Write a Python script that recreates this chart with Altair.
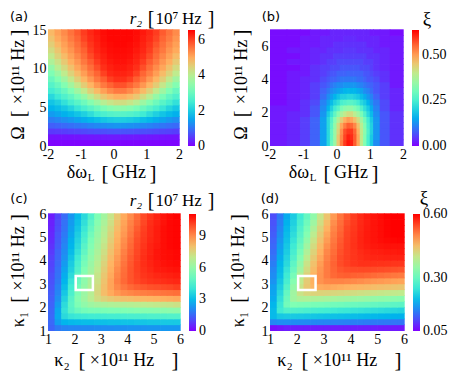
import altair as alt
import pandas as pd

SERIF = "Liberation Serif"
SANS = "DejaVu Sans"
RAINBOW = ["#8000ff", "#4062fa", "#00b4ec", "#40ecd4", "#80ffb4",
           "#bfec8e", "#ffb462", "#ff6232", "#ff0000"]

# ---------------- panel (a): r2 vs detuning and Omega ----------------
A_X_EDGES = [-2.0, -1.8, -1.6, -1.4, -1.2, -1.0, -0.8, -0.6, -0.4, -0.2, 0.0,
             0.2, 0.4, 0.6, 0.8, 1.0, 1.2, 1.4, 1.6, 1.8, 2.0]
A_Y_EDGES = [0, 0.75, 1.5, 2.25, 3.0, 3.75, 4.5, 5.25, 6.0, 6.75, 7.5, 8.25,
             9.0, 9.75, 10.5, 11.25, 12.0, 12.75, 13.5, 14.25, 15.0]
A_ROWS = [
    [0.03] * 20,
    [.15, .15, .16, .16, .17, .18, .19, .20, .21, .22, .22, .22, .22, .21, .20, .19, .18, .17, .16, .16],
    [.48, .49, .52, .55, .58, .61, .64, .66, .67, .69, .70, .70, .69, .67, .66, .64, .61, .58, .55, .52],
    [.79, .84, .90, .95, 1.01, 1.07, 1.14, 1.20, 1.25, 1.29, 1.33, 1.33, 1.29, 1.25, 1.20, 1.14, 1.07, 1.01, .95, .90],
    [1.10, 1.18, 1.27, 1.36, 1.47, 1.58, 1.69, 1.79, 1.90, 1.98, 2.02, 2.02, 1.98, 1.90, 1.79, 1.69, 1.58, 1.47, 1.36, 1.27],
    [1.39, 1.50, 1.61, 1.73, 1.87, 2.04, 2.24, 2.46, 2.61, 2.71, 2.76, 2.76, 2.71, 2.61, 2.46, 2.24, 2.04, 1.87, 1.73, 1.61],
    [1.65, 1.77, 1.91, 2.10, 2.36, 2.59, 2.80, 3.01, 3.21, 3.37, 3.46, 3.46, 3.37, 3.21, 3.01, 2.80, 2.59, 2.36, 2.10, 1.91],
    [1.88, 2.05, 2.29, 2.55, 2.78, 3.04, 3.33, 3.64, 3.99, 4.19, 4.31, 4.31, 4.19, 3.99, 3.64, 3.33, 3.04, 2.78, 2.55, 2.29],
    [2.16, 2.42, 2.66, 2.90, 3.19, 3.55, 4.00, 4.33, 4.64, 4.83, 4.96, 4.96, 4.83, 4.64, 4.33, 4.00, 3.55, 3.19, 2.90, 2.66],
    [2.49, 2.71, 2.97, 3.28, 3.68, 4.13, 4.50, 4.83, 5.11, 5.34, 5.50, 5.50, 5.34, 5.11, 4.83, 4.50, 4.13, 3.68, 3.28, 2.97],
    [2.74, 2.99, 3.31, 3.72, 4.17, 4.56, 4.90, 5.20, 5.50, 5.71, 5.87, 5.87, 5.71, 5.50, 5.20, 4.90, 4.56, 4.17, 3.72, 3.31],
    [2.99, 3.29, 3.69, 4.15, 4.53, 4.89, 5.19, 5.51, 5.76, 6.02, 6.15, 6.15, 6.02, 5.76, 5.51, 5.19, 4.89, 4.53, 4.15, 3.69],
    [3.25, 3.62, 4.09, 4.47, 4.81, 5.13, 5.44, 5.70, 6.01, 6.21, 6.27, 6.27, 6.21, 6.01, 5.70, 5.44, 5.13, 4.81, 4.47, 4.09],
    [3.52, 4.01, 4.36, 4.72, 5.05, 5.32, 5.61, 5.90, 6.16, 6.28, 6.35, 6.35, 6.28, 6.16, 5.90, 5.61, 5.32, 5.05, 4.72, 4.36],
    [3.87, 4.25, 4.60, 4.96, 5.21, 5.51, 5.77, 6.05, 6.24, 6.35, 6.41, 6.41, 6.35, 6.24, 6.05, 5.77, 5.51, 5.21, 4.96, 4.60],
    [4.13, 4.49, 4.81, 5.10, 5.36, 5.63, 5.92, 6.16, 6.29, 6.41, 6.44, 6.44, 6.41, 6.29, 6.16, 5.92, 5.63, 5.36, 5.10, 4.81],
    [4.34, 4.67, 5.01, 5.23, 5.51, 5.74, 6.04, 6.23, 6.35, 6.44, 6.47, 6.47, 6.44, 6.35, 6.23, 6.04, 5.74, 5.51, 5.23, 5.01],
    [4.53, 4.85, 5.11, 5.35, 5.60, 5.86, 6.11, 6.27, 6.40, 6.47, 6.50, 6.50, 6.47, 6.40, 6.27, 6.11, 5.86, 5.60, 5.35, 5.11],
    [4.69, 5.01, 5.22, 5.48, 5.70, 5.98, 6.18, 6.31, 6.43, 6.50, 6.50, 6.50, 6.50, 6.43, 6.31, 6.18, 5.98, 5.70, 5.48, 5.22],
    [4.84, 5.10, 5.32, 5.56, 5.79, 6.05, 6.22, 6.35, 6.45, 6.50, 6.50, 6.50, 6.50, 6.45, 6.35, 6.22, 6.05, 5.79, 5.56, 5.32],
]
A_XTICKS = [-2, -1, 0, 1, 2]
A_YTICKS = [0, 5, 10, 15]
A_STOPS = [-0.001, 0.819, 1.638, 2.456, 3.275, 4.094, 4.913, 5.731, 6.55]
A_CBAR = [0, 2, 4, 6]

# ---------------- panel (b): xi vs detuning and Omega ----------------
B_X_EDGES = [-2.0, -1.5, -1.1, -0.8, -0.5, -0.3, -0.2, -0.1, 0.0, 0.1, 0.2, 0.3,
             0.4, 0.5, 0.6, 0.7, 0.8, 0.9, 1.0, 1.1, 1.3, 1.6, 2.0]
B_Y_EDGES = [0, 0.35, 0.7, 1.05, 1.4, 1.75, 2.1, 2.45, 2.8, 3.15, 3.5, 3.85,
             4.2, 4.55, 4.9, 5.25, 5.6, 5.95, 6.3, 6.65, 7.0]
B_ROWS = [
    [.02, .03, .05, .08, .14, .21, .29, .35, .45, .53, .59, .62, .61, .56, .49, .40, .32, .25, .19, .12, .07, .04],
    [.02, .03, .05, .08, .14, .21, .28, .35, .45, .52, .58, .61, .60, .56, .49, .40, .32, .25, .19, .13, .07, .04],
    [.02, .03, .05, .08, .14, .21, .28, .35, .43, .51, .57, .59, .59, .55, .48, .40, .33, .26, .20, .13, .07, .04],
    [.02, .03, .05, .08, .14, .21, .27, .34, .42, .49, .53, .56, .55, .52, .46, .39, .32, .25, .20, .13, .07, .04],
    [.02, .03, .05, .08, .14, .21, .26, .32, .38, .44, .48, .50, .49, .46, .42, .36, .30, .24, .19, .13, .07, .04],
    [.02, .03, .04, .07, .13, .19, .23, .28, .33, .37, .40, .42, .42, .39, .36, .31, .26, .21, .17, .12, .07, .04],
    [.02, .02, .04, .07, .12, .16, .20, .24, .27, .31, .33, .34, .34, .32, .30, .26, .22, .19, .15, .11, .06, .03],
    [.01, .02, .04, .06, .11, .14, .17, .20, .22, .25, .26, .27, .27, .26, .24, .21, .19, .16, .13, .10, .06, .03],
    [.01, .02, .03, .05, .09, .12, .14, .16, .18, .20, .20, .21, .21, .20, .19, .17, .15, .13, .11, .08, .05, .03],
    [.01, .02, .03, .05, .08, .10, .12, .13, .14, .15, .16, .165, .16, .16, .15, .14, .12, .11, .09, .07, .05, .03],
    [.01, .02, .03, .05, .07, .08, .10, .11, .12, .12, .13, .13, .13, .13, .12, .11, .10, .09, .08, .07, .05, .02],
    [.01, .02, .03, .04, .06, .07, .08, .08, .09, .10, .10, .10, .10, .10, .09, .09, .08, .07, .07, .06, .04, .02],
    [.01, .02, .02, .04, .05, .06, .07, .07, .08, .08, .08, .085, .08, .08, .08, .08, .07, .07, .06, .05, .04, .02],
    [.01, .01, .02, .04, .05, .05, .06, .06, .06, .07, .07, .07, .07, .07, .07, .06, .06, .06, .05, .04, .03, .02],
    [.01, .02, .02, .03, .04, .05, .05, .05, .06, .06, .06, .06, .06, .06, .06, .06, .05, .05, .05, .04, .03, .02],
    [.01, .01, .02, .03, .04, .04, .04, .05, .05, .05, .05, .05, .05, .05, .05, .05, .05, .04, .04, .04, .03, .02],
    [.01, .02, .02, .03, .03, .04, .04, .04, .04, .04, .045, .045, .045, .045, .04, .04, .04, .04, .04, .03, .03, .02],
    [.01, .01, .02, .02, .03, .03, .03, .04, .04, .04, .04, .04, .04, .04, .04, .04, .04, .03, .03, .03, .02, .02],
    [.01, .01, .02, .02, .03, .03, .03, .03, .03, .03, .035, .035, .035, .035, .03, .03, .03, .03, .03, .03, .02, .02],
    [.01, .01, .01, .02, .02, .02, .03, .03, .03, .03, .03, .03, .03, .03, .03, .03, .03, .03, .02, .02, .02, .01],
]
B_XTICKS = [-2, -1, 0, 1, 2]
B_YTICKS = [0, 2, 4, 6]
B_STOPS = [-0.0001, 0.0794, 0.1588, 0.2381, 0.3175, 0.3969, 0.4763, 0.5556, 0.635]
B_CBAR = [0.0, 0.25, 0.5]

# ---------------- panels (c), (d): vs kappa2 (x) and kappa1 (y) ----------------
K_EDGES = [1.0, 1.25, 1.5, 1.75, 2.0, 2.25, 2.5, 2.75, 3.0, 3.25, 3.5, 3.75,
           4.0, 4.25, 4.5, 4.75, 5.0, 5.25, 5.5, 5.75, 6.0]
K_TICKS = [1, 2, 3, 4, 5, 6]
C_ROWS = [
    [1.4, 1.8, 1.95, 2.0, 2.0, 2.05, 2.05, 2.1, 2.1, 2.1, 2.15, 2.15, 2.2, 2.2, 2.2, 2.25, 2.25, 2.3, 2.3, 2.3],
    [1.5, 2.4, 2.8, 2.9, 2.95, 3.0, 3.0, 3.05, 3.05, 3.1, 3.1, 3.15, 3.15, 3.2, 3.2, 3.25, 3.25, 3.3, 3.3, 3.3],
    [1.5, 2.6, 3.7, 4.0, 4.1, 4.15, 4.2, 4.2, 4.25, 4.3, 4.3, 4.35, 4.4, 4.4, 4.45, 4.5, 4.5, 4.55, 4.6, 4.6],
    [1.45, 2.55, 3.9, 4.7, 5.1, 5.3, 5.4, 5.4, 5.45, 5.5, 5.5, 5.55, 5.6, 5.65, 5.7, 5.7, 5.75, 5.8, 5.85, 5.9],
    [1.4, 2.35, 3.75, 4.8, 5.5, 5.9, 6.2, 6.4, 6.5, 6.6, 6.65, 6.7, 6.75, 6.8, 6.9, 6.95, 7.0, 7.05, 7.1, 7.2],
    [1.35, 2.15, 3.5, 4.7, 5.65, 6.2, 6.8, 7.3, 7.6, 7.8, 7.95, 8.05, 8.1, 8.2, 8.25, 8.3, 8.35, 8.4, 8.45, 8.5],
    [1.3, 2.0, 3.25, 4.45, 5.5, 6.15, 6.75, 7.45, 8.1, 8.5, 8.8, 9.0, 9.1, 9.2, 9.25, 9.3, 9.35, 9.4, 9.45, 9.5],
    [1.2, 1.9, 3.0, 4.2, 5.3, 6.0, 6.65, 7.35, 8.05, 8.6, 9.05, 9.35, 9.6, 9.75, 9.85, 9.95, 10.0, 10.05, 10.1, 10.2],
    [1.15, 1.75, 2.8, 4.0, 5.05, 5.85, 6.5, 7.2, 7.95, 8.6, 9.2, 9.6, 9.9, 10.1, 10.25, 10.35, 10.4, 10.45, 10.5, 10.55],
    [1.1, 1.65, 2.65, 3.75, 4.8, 5.7, 6.35, 7.1, 7.85, 8.5, 9.1, 9.55, 9.9, 10.15, 10.35, 10.45, 10.55, 10.6, 10.65, 10.7],
    [1.0, 1.6, 2.5, 3.5, 4.55, 5.55, 6.25, 6.95, 7.7, 8.4, 9.0, 9.5, 9.9, 10.2, 10.4, 10.55, 10.7, 10.75, 10.8, 10.85],
    [.95, 1.5, 2.35, 3.35, 4.35, 5.35, 6.1, 6.8, 7.55, 8.3, 8.85, 9.4, 9.85, 10.2, 10.45, 10.6, 10.75, 10.85, 10.9, 10.95],
    [.9, 1.45, 2.2, 3.15, 4.15, 5.15, 5.95, 6.65, 7.4, 8.15, 8.75, 9.3, 9.8, 10.15, 10.45, 10.65, 10.8, 10.9, 10.95, 11.0],
    [.8, 1.4, 2.1, 2.95, 3.9, 4.9, 5.8, 6.5, 7.25, 8.0, 8.6, 9.2, 9.7, 10.1, 10.4, 10.6, 10.8, 10.9, 10.95, 11.0],
    [.7, 1.3, 2.0, 2.8, 3.7, 4.7, 5.6, 6.35, 7.1, 7.85, 8.5, 9.05, 9.6, 10.05, 10.35, 10.6, 10.75, 10.9, 11.0, 11.05],
    [.6, 1.25, 1.9, 2.7, 3.55, 4.45, 5.45, 6.2, 6.95, 7.7, 8.4, 8.95, 9.5, 10.0, 10.3, 10.55, 10.7, 10.9, 11.0, 11.05],
    [.55, 1.2, 1.8, 2.55, 3.4, 4.25, 5.25, 6.05, 6.8, 7.55, 8.3, 8.8, 9.35, 9.9, 10.25, 10.5, 10.7, 10.9, 11.0, 11.05],
    [.5, 1.1, 1.7, 2.45, 3.2, 4.05, 5.0, 5.9, 6.7, 7.4, 8.15, 8.7, 9.25, 9.8, 10.2, 10.5, 10.7, 10.9, 11.0, 11.05],
    [.45, 1.05, 1.65, 2.35, 3.05, 3.85, 4.8, 5.7, 6.5, 7.25, 8.0, 8.6, 9.15, 9.65, 10.1, 10.45, 10.65, 10.85, 11.0, 11.05],
    [.4, 1.0, 1.55, 2.25, 2.95, 3.7, 4.55, 5.5, 6.3, 7.1, 7.85, 8.5, 9.0, 9.55, 10.05, 10.35, 10.6, 10.8, 10.95, 11.05],
]
C_STOPS = [-0.001, 1.3875, 2.775, 4.1625, 5.55, 6.9375, 8.325, 9.7125, 11.1]
C_CBAR = [0, 3, 6, 9]

D_ROWS = [
    [.06, .065, .07, .07, .07, .07, .07, .07, .07, .07, .07, .07, .07, .07, .07, .07, .068, .068, .067, .067],
    [.15, .155, .155, .154, .153, .152, .151, .149, .148, .147, .146, .145, .143, .142, .14, .139, .138, .137, .135, .134],
    [.195, .212, .215, .215, .213, .211, .209, .207, .205, .204, .202, .2, .198, .196, .194, .192, .19, .189, .187, .186],
    [.195, .255, .275, .275, .272, .268, .265, .262, .259, .256, .253, .251, .248, .245, .242, .239, .236, .233, .23, .227],
    [.19, .25, .31, .325, .322, .32, .318, .316, .314, .311, .309, .306, .304, .301, .299, .297, .294, .292, .289, .287],
    [.18, .24, .305, .36, .375, .376, .374, .372, .369, .366, .363, .36, .357, .354, .35, .347, .344, .341, .338, .335],
    [.175, .23, .295, .36, .405, .42, .425, .426, .424, .421, .418, .416, .413, .41, .407, .404, .401, .399, .397, .395],
    [.17, .22, .28, .345, .405, .44, .46, .47, .473, .47, .467, .463, .46, .458, .455, .452, .449, .446, .443, .44],
    [.16, .21, .265, .33, .395, .435, .465, .49, .5, .503, .503, .5, .498, .494, .49, .487, .484, .481, .478, .475],
    [.155, .2, .255, .315, .38, .428, .463, .49, .51, .525, .532, .534, .532, .53, .527, .524, .52, .517, .514, .511],
    [.15, .195, .245, .3, .36, .415, .455, .488, .51, .528, .54, .545, .548, .549, .549, .548, .547, .545, .543, .541],
    [.142, .19, .233, .288, .345, .405, .447, .482, .51, .53, .547, .555, .562, .566, .566, .566, .565, .564, .563, .562],
    [.135, .182, .225, .276, .329, .392, .437, .473, .505, .527, .547, .556, .563, .568, .572, .574, .575, .576, .576, .576],
    [.129, .175, .217, .265, .316, .376, .426, .465, .5, .522, .543, .555, .563, .57, .575, .578, .58, .582, .582, .583],
    [.124, .169, .211, .255, .304, .36, .415, .456, .492, .518, .54, .555, .565, .574, .58, .584, .586, .588, .588, .588],
    [.12, .162, .204, .246, .293, .344, .404, .446, .483, .513, .536, .554, .564, .575, .582, .587, .591, .594, .596, .597],
    [.115, .156, .198, .237, .283, .329, .39, .435, .474, .508, .531, .552, .563, .574, .582, .587, .592, .597, .6, .6],
    [.112, .15, .193, .229, .273, .318, .374, .424, .464, .502, .526, .55, .561, .573, .581, .587, .592, .597, .6, .6],
    [.108, .144, .187, .222, .264, .307, .358, .412, .454, .494, .521, .545, .559, .571, .58, .587, .592, .597, .6, .6],
    [.105, .139, .181, .216, .255, .297, .343, .401, .443, .484, .515, .54, .557, .57, .58, .586, .592, .597, .6, .6],
]
D_STOPS = [0.0499, 0.11875, 0.1875, 0.25625, 0.325, 0.39375, 0.4625, 0.53125, 0.6001]
D_CBAR = [0.05, 0.30, 0.60]

BOX = [2.05, 2.7, 2.75, 3.35]   # highlighted (kappa2, kappa1) region


def grid_df(xe, ye, rows):
    recs = []
    for j, row in enumerate(rows):
        for i, v in enumerate(row):
            recs.append({"x0": xe[i], "x1": xe[i + 1], "y0": ye[j], "y1": ye[j + 1], "v": v})
    return pd.DataFrame(recs)


ONE = pd.DataFrame({"k": [0]})


def txt(s, x, y, size, angle=0, font=SERIF, style="normal"):
    kw = dict(text=s, font=font, fontSize=size, align="center", baseline="middle", color="black")
    if angle:
        kw["angle"] = angle
    if style != "normal":
        kw["fontStyle"] = style
    return alt.Chart(ONE).mark_text(**kw).encode(x=alt.value(x), y=alt.value(y))


def axis(vals, pad):
    return alt.Axis(values=vals, title=None, ticks=False, tickSize=0, domain=False, grid=False,
                    labelFont=SERIF, labelFontSize=14, labelColor="black", labelPadding=pad,
                    labelFlush=False, labelOverlap=False, labelExpr="'' + datum.value")


def panel(df, W, H, xdom, ydom, xt, yt, stops, cvals, cfmt, texts, box=None):
    cscale = alt.Scale(domain=stops, range=RAINBOW, clamp=True, interpolate="rgb")
    xs = alt.Scale(domain=xdom, nice=False, zero=False)
    ys = alt.Scale(domain=ydom, nice=False, zero=False)
    # small overlap of neighbouring cells hides anti-aliasing seams
    heat = alt.Chart(df).mark_rect(x2Offset=0.7, y2Offset=-0.7).encode(
        x=alt.X("x0:Q", scale=xs, axis=axis(xt, 1)),
        x2="x1:Q",
        y=alt.Y("y0:Q", scale=ys, axis=axis(yt, 2)),
        y2="y1:Q",
        color=alt.Color("v:Q", scale=cscale, legend=alt.Legend(
            type="gradient", orient="none", legendX=W + 9, legendY=0, direction="vertical",
            gradientLength=H, gradientThickness=7, title=None, values=cvals, format=cfmt,
            labelFont=SERIF, labelFontSize=14, labelColor="black", labelOffset=3,
            gradientStrokeWidth=0, padding=0, labelOverlap=False)),
    )
    layers = [heat]
    if box:
        bdf = pd.DataFrame({"x0": [box[0]], "x1": [box[1]], "y0": [box[2]], "y1": [box[3]]})
        layers.append(alt.Chart(bdf).mark_rect(fillOpacity=0, stroke="white", strokeWidth=2.5).encode(
            x=alt.X("x0:Q", scale=xs, axis=axis(xt, 1)), x2="x1:Q",
            y=alt.Y("y0:Q", scale=ys, axis=axis(yt, 2)), y2="y1:Q"))
    layers += texts
    return alt.layer(*layers).properties(width=W, height=H)


def ytitle_omega(cx, H):
    m = H / 2
    return [txt("Ω", cx, m + 45, 18, 270), txt("[", cx, m + 26, 20, 270),
            txt("×10¹¹ Hz", cx, m - 16, 18, 270), txt("]", cx, m - 55, 20, 270)]


def ytitle_kappa(cx, H):
    m = H / 2
    return [txt("κ₁", cx, m + 47, 18, 270), txt("[", cx, m + 27, 20, 270),
            txt("×10¹¹ Hz", cx, m - 14, 18, 270), txt("]", cx, m - 55, 20, 270)]


def xtitle_dw(H):
    return [txt("δω", 29, H + 27, 18), txt("L", 43, H + 32, 11),
            txt("[", 57, H + 28, 21), txt("GHz", 81, H + 27, 18), txt("]", 105, H + 28, 21)]


def xtitle_kappa(H, dx=0):
    return [txt("κ₂", 14 + dx, H + 30, 18), txt("[", 34 + dx, H + 30, 21),
            txt("×10¹¹ Hz", 74 + dx, H + 30, 18), txt("]", 127 + dx, H + 30, 21)]


def cbar_title_r2(y):
    return [txt("r₂", 88, y, 17, style="italic"), txt("[", 103, y, 20),
            txt("10⁷", 119, y, 17), txt("Hz", 144, y, 17), txt("]", 163, y, 20)]


WA, HA = 131, 116
WB, HB = 133, 116
WC, HC = 132, 117
WD, HD = 134, 117

pa = panel(grid_df(A_X_EDGES, A_Y_EDGES, A_ROWS), WA, HA, [-2, 2], [0, 15], A_XTICKS, A_YTICKS,
           A_STOPS, A_CBAR, "d",
           [txt("(a)", -29, -13, 13, font=SANS)] + cbar_title_r2(-11) + ytitle_omega(-29, HA) + xtitle_dw(HA))
pb = panel(grid_df(B_X_EDGES, B_Y_EDGES, B_ROWS), WB, HB, [-2, 2], [0, 7], B_XTICKS, B_YTICKS,
           B_STOPS, B_CBAR, ".2f",
           [txt("(b)", 1, -13, 13, font=SANS), txt("ξ", 157, -11, 19)] + ytitle_omega(-28, HB) + xtitle_dw(HB))
pc = panel(grid_df(K_EDGES, K_EDGES, C_ROWS), WC, HC, [1, 6], [1, 6], K_TICKS, K_TICKS,
           C_STOPS, C_CBAR, "d",
           [txt("(c)", -29, -15, 13, font=SANS)] + cbar_title_r2(-13) + ytitle_kappa(-29, HC) + xtitle_kappa(HC),
           box=BOX)
pd_ = panel(grid_df(K_EDGES, K_EDGES, D_ROWS), WD, HD, [1, 6], [1, 6], K_TICKS, K_TICKS,
            D_STOPS, D_CBAR, ".2f",
            [txt("(d)", 0, -15, 13, font=SANS), txt("ξ", 154, -16, 19)] + ytitle_kappa(-31, HD) + xtitle_kappa(HD, 1),
            box=BOX)

chart = alt.concat(pa, pb, pc, pd_, columns=2, spacing={"row": 68, "column": 90}, bounds="flush").resolve_scale(
    color="independent", x="independent", y="independent"
).properties(padding={"left": 1, "top": 1, "right": 0, "bottom": 0},
             background="white").configure_view(strokeWidth=0)

chart.save("out.html", embed_options={"renderer": "svg", "actions": False})
